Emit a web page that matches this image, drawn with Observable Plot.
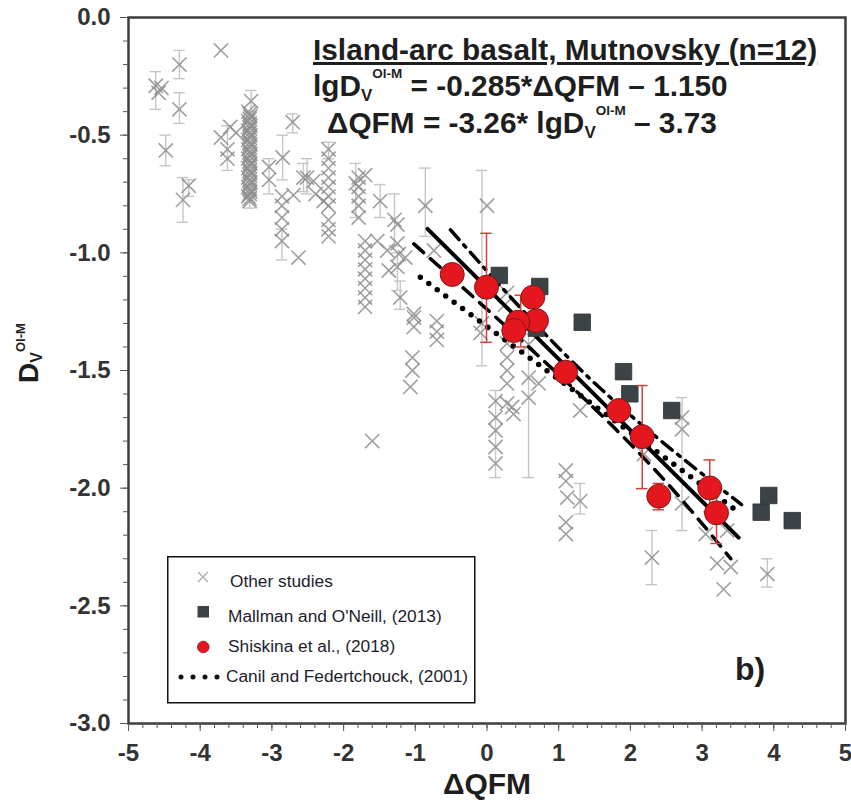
<!DOCTYPE html>
<html><head><meta charset="utf-8">
<script src="https://cdn.jsdelivr.net/npm/d3@7"></script>
<script src="https://cdn.jsdelivr.net/npm/@observablehq/plot@0.6"></script>
<style>html,body{margin:0;padding:0;background:#fff;}</style>
</head><body><div id="chart"></div>
<script>
// ---------- axis ticks ----------
const xTicks = [-5,-4,-3,-2,-1,0,1,2,3,4,5];
const yTicks = [0,-0.5,-1,-1.5,-2,-2.5,-3];

// ---------- Shiskina et al. (2018) ----------
const shiskinaX = [-0.485,-0.007,0.639,0.690,0.430,0.374,1.095,1.838,2.165,2.396,3.107,3.201];
const shiskinaY = [-1.092,-1.146,-1.189,-1.288,-1.295,-1.330,-1.507,-1.670,-1.781,-2.034,-1.999,-2.105];
const shiskinaErrX  = [-0.007, 0.47, 2.165, 2.396, 3.107, 3.201];
const shiskinaErrLo = [-0.917,-1.18,-1.564,-1.98,-1.880,-2.00];
const shiskinaErrHi = [-1.380,-1.40,-2.002,-2.092,-2.10,-2.235];

// ---------- Mallman and O'Neill (2013) ----------
const mallmanX = [0.172,0.736,1.328,1.904,1.992,2.576,3.930,3.824,4.257,0.690];
const mallmanY = [-1.096,-1.143,-1.295,-1.505,-1.599,-1.670,-2.031,-2.102,-2.138,-1.320];

// ---------- Other studies ----------
const otherX = [-4.62,-4.58,-4.54,-4.29,-4.29,-4.48,-3.71,-4.24,-4.16,-3.71,-3.58,-3.62,-3.62,-3.50,
 -3.29,-3.33,-3.30,-3.33,-3.30,-3.33,-3.30,-3.33,-3.30,-3.33,-3.30,-3.33,-3.30,-3.33,-3.30,-3.33,-3.30,-3.33,-3.30,-3.33,-3.31,
 -3.31,-3.31,-3.31,-3.31,-3.31,-3.31,-3.31,-3.31,-3.31,-3.31,-3.31,-3.31,-3.31,-3.31,-3.31,-3.31,-3.31,-3.31,-3.31,
 -2.71,-3.04,-3.04,-2.85,-2.86,-2.86,-2.86,-2.86,-2.86,-2.63,-2.70,-2.56,-2.42,-2.51,-2.39,-2.28,
 -2.21,-2.21,-2.21,-2.21,-2.21,-2.21,-2.21,-2.21,-2.21,-2.21,
 -1.83,-1.79,-1.79,-1.79,-1.79,-1.79,-1.70,-1.70,-1.70,-1.70,-1.70,-1.70,-1.70,-1.70,-1.70,
 -1.49,-1.53,-1.29,-1.25,-1.39,-1.37,-1.25,-1.14,-1.21,-1.02,-0.86,-0.74,-1.25,-1.23,-1.02,-1.02,-0.70,-0.70,-0.70,-1.04,-1.04,-1.07,-1.60,
 -0.07,0.00,-0.09,0.28,0.25,
 0.12,0.12,0.12,0.12,0.12,0.28,0.37,0.28,0.28,0.28,0.28,0.35,
 0.58,0.72,0.58,0.58,1.10,1.10,1.12,1.30,1.10,1.10,1.30,
 2.30,2.72,2.72,2.72,2.19,3.05,3.21,3.40,3.30,3.91,3.35];
const otherY = [-0.29,-0.32,-0.30,-0.20,-0.39,-0.565,-0.14,-0.775,-0.715,-0.51,-0.465,-0.56,-0.60,-0.49,
 -0.355,-0.40,-0.42,-0.44,-0.46,-0.48,-0.50,-0.52,-0.54,-0.56,-0.58,-0.60,-0.62,-0.64,-0.66,-0.68,-0.70,-0.72,-0.74,-0.76,-0.78,
 -0.41,-0.43,-0.45,-0.47,-0.49,-0.51,-0.53,-0.55,-0.57,-0.59,-0.61,-0.63,-0.65,-0.67,-0.69,-0.71,-0.73,-0.75,-0.77,
 -0.445,-0.635,-0.69,-0.595,-0.76,-0.80,-0.85,-0.90,-0.95,-1.02,-0.755,-0.68,-0.695,-0.68,-0.75,-0.78,
 -0.56,-0.60,-0.64,-0.68,-0.72,-0.76,-0.80,-0.86,-0.90,-0.93,
 -0.705,-0.68,-0.72,-0.76,-0.80,-0.85,-0.67,-0.95,-0.99,-1.03,-1.07,-1.11,-1.15,-1.19,-1.23,
 -0.78,-0.95,-0.86,-0.96,-0.99,-1.075,-1.06,-1.02,-1.19,-1.26,-0.80,-0.99,-0.88,-1.005,-1.275,-1.315,-1.29,-1.335,-1.37,-1.445,-1.50,-1.57,-1.80,
 -1.30,-0.80,-1.34,-1.17,-1.22,
 -1.63,-1.70,-1.755,-1.825,-1.895,-1.64,-1.685,-1.385,-1.445,-1.50,-1.555,-1.655,
 -1.53,-1.555,-1.615,-1.39,-1.925,-1.97,-2.04,-2.055,-2.145,-2.195,-1.67,
 -2.295,-2.065,-1.70,-1.75,-1.855,-2.195,-2.32,-2.335,-2.43,-2.365,-2.18];
const otherErrX  = [-4.62,-4.29,-4.29,-4.48,-4.24,-4.16,-3.62,-3.29,-3.31,-2.71,-3.04,-2.85,-2.86,-2.56,-2.51,-2.21,-1.83,-1.49,-1.29,-1.25,-1.21,-0.86,-0.07,0.12,0.58,1.30,2.30,2.72,3.91];
const otherErrLo = [-0.23,-0.14,-0.32,-0.50,-0.68,-0.69,-0.46,-0.31,-0.75,-0.41,-0.60,-0.50,-0.90,-0.62,-0.60,-0.53,-0.62,-0.71,-0.75,-1.00,-1.12,-0.64,-0.65,-1.585,-1.345,-1.98,-2.18,-1.615,-2.30];
const otherErrHi = [-0.39,-0.26,-0.45,-0.63,-0.87,-0.76,-0.65,-0.40,-0.81,-0.49,-0.75,-0.69,-1.03,-0.74,-0.75,-0.60,-0.85,-0.85,-0.97,-1.16,-1.24,-0.93,-1.48,-1.955,-1.955,-2.11,-2.41,-2.18,-2.42];

// ---------- lines ----------
const fitX = [-0.83, 3.51],            fitY = [-0.898, -2.21];           // regression (solid)
const upperX = [-0.51, 1.44, 3.55],    upperY = [-0.902, -1.536, -2.07]; // confidence (dash-dot)
const lowerX = [-1.02, 1.79, 3.40],    lowerY = [-0.962, -1.748, -2.30]; // confidence (dashed)
const canilX = [-0.93, 3.51],          canilY = [-1.104, -2.102];        // Canil and Federtchouck (2001)

const pts = (xs, ys) => xs.map((x, i) => ({x, y: ys[i]}));
const bars = (xs, lo, hi) => xs.map((x, i) => ({x, lo: lo[i], hi: hi[i]}));

const FONT = '"Liberation Sans", Arial, Helvetica, sans-serif';
const capW = 0.08;

const otherBars = bars(otherErrX, otherErrLo, otherErrHi);
const redBars = bars(shiskinaErrX, shiskinaErrLo, shiskinaErrHi);

const chart = Plot.plot({
  width: 851, height: 806,
  marginLeft: 128, marginRight: 6, marginTop: 17, marginBottom: 83,
  x: {domain: [-5, 5]},
  y: {domain: [-3, 0]},
  style: {fontFamily: FONT, fontSize: "24px", fontWeight: "bold", background: "#fff", color: "#333"},
  marks: [
    Plot.ruleX(otherBars, {x: "x", y1: "lo", y2: "hi", stroke: "#c6c6c6", strokeWidth: 1.4}),
    Plot.ruleY(otherBars, {y: "lo", x1: d => d.x - capW, x2: d => d.x + capW, stroke: "#c6c6c6", strokeWidth: 1.4}),
    Plot.ruleY(otherBars, {y: "hi", x1: d => d.x - capW, x2: d => d.x + capW, stroke: "#c6c6c6", strokeWidth: 1.4}),
    Plot.dot(pts(otherX, otherY), {x: "x", y: "y", symbol: "times", r: 6.5, stroke: "#8e8e8e", strokeOpacity: 0.85, strokeWidth: 1.6}),
    Plot.line(pts(canilX, canilY), {x: "x", y: "y", stroke: "#000", strokeWidth: 5.5, strokeLinecap: "round", strokeDasharray: "0,10.5"}),
    Plot.line(pts(lowerX, lowerY), {x: "x", y: "y", curve: "natural", stroke: "#000", strokeWidth: 3.5, strokeDasharray: "13,9"}),
    Plot.line(pts(upperX, upperY), {x: "x", y: "y", curve: "natural", stroke: "#000", strokeWidth: 3.5, strokeDasharray: "13,7,3,7"}),
    Plot.line(pts(fitX, fitY), {x: "x", y: "y", stroke: "#000", strokeWidth: 4}),
    Plot.dot(pts(mallmanX, mallmanY), {x: "x", y: "y", symbol: "square", r: 9.3, fill: "#3c4347", stroke: "#2c3134", strokeWidth: 0.8}),
    Plot.ruleX(redBars, {x: "x", y1: "lo", y2: "hi", stroke: "#d9403a", strokeWidth: 1.5}),
    Plot.ruleY(redBars, {y: "lo", x1: d => d.x - capW, x2: d => d.x + capW, stroke: "#d9403a", strokeWidth: 1.5}),
    Plot.ruleY(redBars, {y: "hi", x1: d => d.x - capW, x2: d => d.x + capW, stroke: "#d9403a", strokeWidth: 1.5}),
    Plot.dot(pts(shiskinaX, shiskinaY), {x: "x", y: "y", r: 12, fill: "#e4161e", stroke: "#7d1a1a", strokeWidth: 1}),
    Plot.frame({stroke: "#3d3d3d", strokeWidth: 2.5}),
    Plot.axisX({ticks: 50, tickSize: 5, tickFormat: () => "", stroke: "#555", label: null}),
    Plot.axisY({ticks: 30, tickSize: 5, tickFormat: () => "", stroke: "#555", label: null}),
    Plot.axisX({ticks: xTicks, tickSize: 8, tickPadding: 12, tickFormat: d => String(d), stroke: "#555", fill: "#333", fontSize: 24, fontWeight: "bold", label: null}),
    Plot.axisY({ticks: yTicks, tickSize: 8, tickPadding: 10, tickFormat: d => d.toFixed(1), stroke: "#555", fill: "#333", fontSize: 24, fontWeight: "bold", label: null})
  ]
});
document.getElementById("chart").appendChild(chart);

// ---------- annotations ----------
const svg = d3.select(chart);
const ann = svg.append("g").attr("font-family", FONT).attr("font-weight", "bold")
  .attr("fill", "#1e1e1e").attr("text-anchor", "start");

ann.append("text").attr("x", 313).attr("y", 60).attr("font-size", 29.8)
  .style("text-decoration", "underline").text("Island-arc basalt, Mutnovsky (n=12)");

function eqLine(x, y, before, after) {
  const t = ann.append("text").attr("x", x).attr("y", y).attr("font-size", 29.8);
  t.append("tspan").text(before);
  t.append("tspan").attr("font-size", 17).attr("dy", 5).text("V");
  t.append("tspan").attr("font-size", 13.5).attr("dy", -23).text("Ol-M");
  t.append("tspan").attr("font-size", 29.8).attr("dy", 18).text(after);
}
eqLine(313, 96, "lgD", " = -0.285*\u0394QFM \u2013 1.150");
eqLine(327, 133, "\u0394QFM = -3.26* lgD", " \u2013 3.73");

const yl = ann.append("text").attr("transform", "translate(38,383) rotate(-90)").attr("font-size", 28);
yl.append("tspan").text("D");
yl.append("tspan").attr("font-size", 16).attr("dy", 4).text("V");
yl.append("tspan").attr("font-size", 13).attr("dy", -17).text("Ol-M");

ann.append("text").attr("x", 487).attr("y", 794).attr("text-anchor", "middle").attr("font-size", 30).text("\u0394QFM");

ann.append("text").attr("x", 735).attr("y", 680).attr("font-size", 32).text("b)");

// ---------- legend ----------
const lg = svg.append("g").attr("font-family", FONT).attr("font-weight", "normal").attr("text-anchor", "start");
lg.append("rect").attr("x", 167.75).attr("y", 556.75).attr("width", 307).attr("height", 146)
  .attr("fill", "#fff").attr("stroke", "#111").attr("stroke-width", 1.5);
lg.append("path").attr("d", "M198,572L208,582M198,582L208,572").attr("stroke", "#b3b3b3").attr("stroke-width", 1.5);
lg.append("rect").attr("x", 197.5).attr("y", 606).attr("width", 11.5).attr("height", 11.5).attr("fill", "#3c4347");
lg.append("circle").attr("cx", 203.3).attr("cy", 647).attr("r", 5.8).attr("fill", "#e4161e").attr("stroke", "#8b1d1d").attr("stroke-width", 0.8);
lg.append("line").attr("x1", 181).attr("x2", 218).attr("y1", 677).attr("y2", 677)
  .attr("stroke", "#111").attr("stroke-width", 5).attr("stroke-linecap", "round").attr("stroke-dasharray", "0,12");
const legendItems = [
  {x: 230, y: 587, t: "Other studies"},
  {x: 228, y: 621.7, t: "Mallman and O'Neill, (2013)"},
  {x: 228, y: 651.7, t: "Shiskina et al., (2018)"},
  {x: 226, y: 681.7, t: "Canil and Federtchouck, (2001)"}
];
lg.selectAll("text.li").data(legendItems).join("text").attr("class", "li")
  .attr("x", d => d.x).attr("y", d => d.y).attr("font-size", 17.3).attr("fill", "#1c1c2c").text(d => d.t);
</script></body></html>
